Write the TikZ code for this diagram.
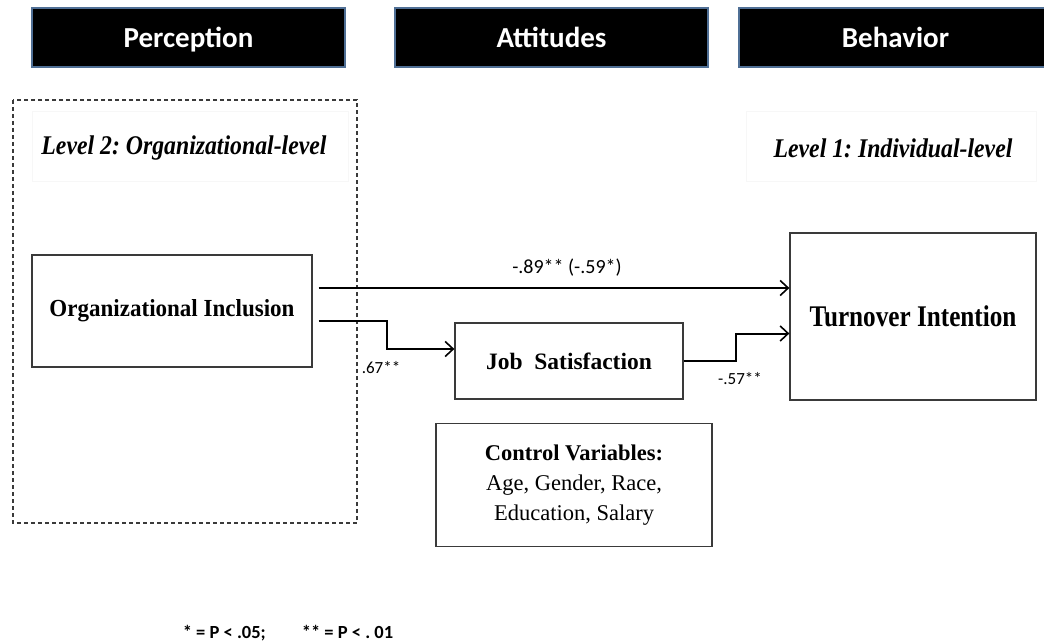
\documentclass[tikz,border=0pt]{standalone}
\usepackage{fontspec}
\setmainfont{Liberation Serif}
\newfontfamily\labelfont{Carlito}
\newfontfamily\narrowserif[FakeStretch=0.84]{Liberation Serif}
\newfontfamily\tightserif[FakeStretch=0.94]{Liberation Serif}
\newfontfamily\levelserif[FakeStretch=0.88]{Liberation Serif}
\usetikzlibrary{arrows.meta,calc}

\definecolor{hdrrim}{HTML}{4F6F95}
\definecolor{boxrim}{HTML}{3A3A3A}

\tikzset{
  header/.style={draw=hdrrim, line width=1.6pt, fill=black, text=white,
    minimum width=313pt, minimum height=59pt, inner sep=0pt,
    text height=21pt, text depth=0pt,
    font=\labelfont\bfseries\fontsize{29}{34}\selectfont},
  varbox/.style={draw=boxrim, line width=1.3pt, fill=white, inner sep=0pt,
    align=center},
  levellabel/.style={font=\levelserif\bfseries\itshape\fontsize{27}{30}\selectfont},
  panel/.style={draw=black!3, line width=0.6pt, minimum height=70pt},
  coef/.style={font=\labelfont\fontsize{#1}{#1}\selectfont, inner sep=0pt},
  arr/.style={line width=2pt, -{Straight Barb[length=8pt, width=15pt, line width=1.6pt]}},
}

\begin{document}
\frenchspacing
\begin{tikzpicture}[x=1pt, y=-1pt]
  \useasboundingbox (0,0) rectangle (1044,644);

  % column headers
  \node[header] (perc) at (188.5,37.5) {Perception};
  \node[header] (att)  at (551.5,37.5) {Attitudes};
  \node[header] (beh)  at (895.5,37.5) {Behavior};

  % organizational-level region
  \draw[boxrim, line width=1.1pt, dash pattern=on 4pt off 3pt] (13,100) rectangle (357,523);

  % level labels on faint panels
  \node[panel, minimum width=316pt] (lvl2box) at (190,146) {};
  \node[levellabel] (lvl2) at (184,148) {Level 2: Organizational-level};
  \node[panel, minimum width=290pt] (lvl1box) at (891,146) {};
  \node[levellabel] (lvl1) at (893,148) {Level 1: Individual-level};

  % variables
  \node[varbox, minimum width=280pt, minimum height=112pt,
        font=\tightserif\bfseries\fontsize{24.5}{28}\selectfont] (oi) at (172,311) {Organizational Inclusion};
  \node[varbox, minimum width=228pt, minimum height=76pt,
        font=\bfseries\fontsize{23.5}{27}\selectfont] (js) at (569,361) {Job\ \ Satisfaction};
  \node[varbox, minimum width=246pt, minimum height=167pt,
        font=\narrowserif\bfseries\fontsize{30}{34}\selectfont] (ti) at (913,316.5) {Turnover Intention};
  \node[varbox, minimum width=276pt, minimum height=123pt,
        font=\fontsize{22.5}{30}\selectfont] (cv) at (574,485)
        {\textbf{Control Variables:}\\Age, Gender, Race,\\Education, Salary};

  % paths
  \draw[arr] ([shift={(6,-23)}]oi.east) coordinate (s1) -- (s1 -| ti.west);
  \draw[arr] ([shift={(6,10)}]oi.east) -- ++(68,0) |- ([shift={(0,-12)}]js.west);
  \draw[arr] (js.east) -- ++(52,0) |- ([shift={(0,17)}]ti.west);

  % coefficients
  \node[coef=20] (c1) at (567,268) {-.89** (-.59*)};
  \node[coef=17] (c2) at (381,368) {.67**};
  \node[coef=17] (c3) at (740,379) {-.57**};

  % significance note
  \node[coef=18.5, font=\labelfont\bfseries\fontsize{18.5}{18.5}\selectfont] (note) at (288,633)
        {* = P < .05;\hspace{36pt}** = P < . 01};
\end{tikzpicture}
\end{document}
